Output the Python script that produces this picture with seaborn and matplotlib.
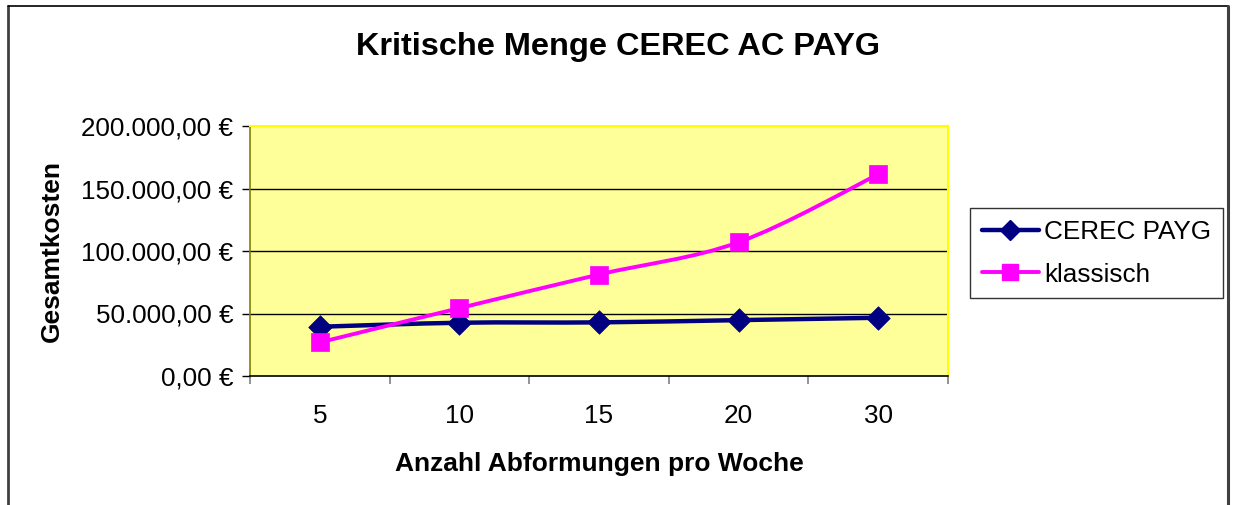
import matplotlib
matplotlib.use("Agg")
import matplotlib.pyplot as plt
import seaborn as sns
import numpy as np
import pandas as pd
from matplotlib.path import Path
from matplotlib.patches import PathPatch
from matplotlib.lines import Line2D
from matplotlib.ticker import FuncFormatter

# ---- data ----
categories = ["5", "10", "15", "20", "30"]
cerec_payg = [39400, 42600, 42900, 44700, 46600]
klassisch = [26900, 54300, 81200, 107000, 161300]
series_names = ["CEREC PAYG", "klassisch"]
title = "Kritische Menge CEREC AC PAYG"
xlabel = "Anzahl Abformungen pro Woche"
ylabel = "Gesamtkosten"
yticks = [0, 50000, 100000, 150000, 200000]

sns.set_style("white")
plt.rcParams['font.family'] = ['Liberation Sans', 'DejaVu Sans']
plt.rcParams['text.color'] = 'black'
plt.rcParams['axes.labelcolor'] = 'black'
plt.rcParams['xtick.color'] = 'black'
plt.rcParams['ytick.color'] = 'black'

fig = plt.figure(figsize=(12.36, 5.05), dpi=100)
ax = fig.add_axes([250/1236, 1-376/505, 698/1236, 250/505])
ax.set_facecolor("#FFFF99")

df = pd.DataFrame({
    "idx": list(range(len(categories))) * 2,
    "value": cerec_payg + klassisch,
    "series": [series_names[0]] * len(categories) + [series_names[1]] * len(categories),
})

colors = {"CEREC PAYG": "#000080", "klassisch": "#FF00FF"}
markers = {"CEREC PAYG": "D", "klassisch": "s"}
lws = {"CEREC PAYG": 3.2, "klassisch": 2.8}
msizes = {"CEREC PAYG": 12, "klassisch": 13}


def smooth_path(xs, ys):
    pts = np.column_stack([xs, ys]).astype(float)
    n = len(pts)
    verts = [pts[0]]
    codes = [Path.MOVETO]
    for i in range(n - 1):
        p0 = pts[i - 1] if i > 0 else pts[i]
        p1 = pts[i]
        p2 = pts[i + 1]
        p3 = pts[i + 2] if i + 2 < n else pts[i + 1]
        c1 = p1 + (p2 - p0) / 6.0
        c2 = p2 - (p3 - p1) / 6.0
        verts += [c1, c2, p2]
        codes += [Path.CURVE4] * 3
    return Path(verts, codes)


# gridlines
for yv in yticks[1:-1]:
    ax.axhline(yv, color="black", lw=1.0, zorder=1)

for name in series_names:
    sub = df[df.series == name]
    patch = PathPatch(smooth_path(sub.idx.values, sub.value.values), facecolor="none",
                      edgecolor=colors[name], lw=lws[name], zorder=3,
                      capstyle="round", joinstyle="round")
    ax.add_patch(patch)

for name in series_names:
    sub = df[df.series == name]
    sns.scatterplot(data=sub, x="idx", y="value", ax=ax, marker=markers[name],
                    color=colors[name], s=msizes[name] ** 2, edgecolor=colors[name],
                    linewidth=0.5, zorder=4, legend=False)

ax.set_xlim(-0.5, len(categories) - 0.5)
ax.set_ylim(0, 200000)
ax.set_xticks(np.arange(-0.5, len(categories), 1.0))
ax.set_xticklabels([])
ax.set_xticks(np.arange(len(categories)), minor=True)
ax.set_xticklabels(categories, minor=True)
ax.tick_params(axis="x", which="major", direction="out", length=6, width=1.2, color="#808080", bottom=True)
ax.tick_params(axis="x", which="minor", length=0, pad=20, labelsize=18.8)
ax.set_yticks(yticks)
ax.yaxis.set_major_formatter(FuncFormatter(
    lambda v, p: f"{v:,.2f}".replace(",", "X").replace(".", ",").replace("X", ".") + " €"))
ax.tick_params(axis="y", direction="out", length=6, width=1.0, color="black", left=True,
               labelsize=18.7, pad=6)

for s in ["top", "right"]:
    ax.spines[s].set_color("#FFFF00")
    ax.spines[s].set_linewidth(1.5)
ax.spines["left"].set_color("#808000")
ax.spines["left"].set_linewidth(1.2)
ax.spines["bottom"].set_color("black")
ax.spines["bottom"].set_linewidth(1.2)

ax.set_xlabel(xlabel, fontsize=19, fontweight="bold")
ax.set_ylabel(ylabel, fontsize=19, fontweight="bold")
ax.yaxis.set_label_coords(-0.284, 0.5)
ax.xaxis.set_label_coords(0.5, -0.352)
ax.xaxis.label.set_va("center")
ax.yaxis.label.set_va("center")

fig.text(618/1236, 1-47/505, title, ha="center", va="center", fontsize=23.4, fontweight="bold")

handles = [Line2D([], [], color=colors[n], lw=lws[n], marker=markers[n], markersize=msizes[n] * 0.85,
                  markeredgecolor=colors[n]) for n in series_names]
leg = fig.legend(handles, series_names, loc="upper left",
                 bbox_to_anchor=(970/1236, 1-208/505), frameon=True, fontsize=18.8,
                 fancybox=False, handlelength=2.2, borderpad=0.45, labelspacing=0.72,
                 handletextpad=0.2, borderaxespad=0)
leg.get_frame().set_edgecolor("black")
leg.get_frame().set_linewidth(1.0)

# outer chart frame
fig.add_artist(Line2D([8/1236, 8/1236], [0, 1-6/505], color="#404040", lw=2.0, transform=fig.transFigure))
fig.add_artist(Line2D([8/1236, 1228/1236], [1-6/505, 1-6/505], color="black", lw=1.2, transform=fig.transFigure))
fig.add_artist(Line2D([1228/1236, 1228/1236], [0, 1-6/505], color="#404040", lw=2.2, transform=fig.transFigure))

fig.savefig("out.png", dpi=100)
